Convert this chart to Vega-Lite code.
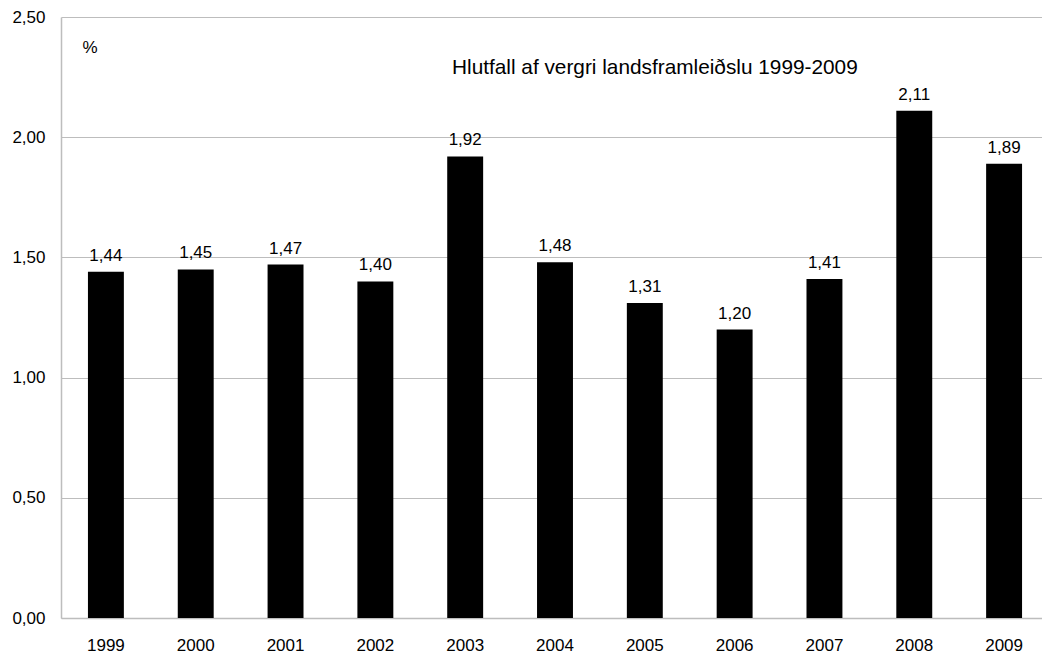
{
  "$schema": "https://vega.github.io/schema/vega-lite/v6.json",
  "autosize": "none",
  "width": 988,
  "height": 601,
  "padding": {"left": 61, "top": 17, "right": -7, "bottom": 38},
  "background": "white",
  "title": {
    "text": "Hlutfall af vergri landsframleiðslu 1999-2009",
    "frame": "group",
    "anchor": "start",
    "orient": "top",
    "dx": 391,
    "offset": -71,
    "font": "Liberation Sans",
    "fontSize": 20.8,
    "fontWeight": "normal",
    "color": "#000000"
  },
  "config": {
    "locale": {"number": {"decimal": ",", "thousands": ".", "grouping": [3], "currency": ["", ""]}},
    "view": {"stroke": null},
    "font": "Liberation Sans"
  },
  "data": {
    "values": [
      {"year": "1999", "value": 1.44},
      {"year": "2000", "value": 1.45},
      {"year": "2001", "value": 1.47},
      {"year": "2002", "value": 1.40},
      {"year": "2003", "value": 1.92},
      {"year": "2004", "value": 1.48},
      {"year": "2005", "value": 1.31},
      {"year": "2006", "value": 1.20},
      {"year": "2007", "value": 1.41},
      {"year": "2008", "value": 2.11},
      {"year": "2009", "value": 1.89}
    ]
  },
  "encoding": {
    "x": {
      "field": "year",
      "type": "ordinal",
      "scale": {"paddingInner": 0.6, "paddingOuter": 0.3},
      "axis": {
        "title": null,
        "labelAngle": 0,
        "ticks": false,
        "domainColor": "#bdbdbd",
        "domainWidth": 1.5,
        "labelFont": "Liberation Sans",
        "labelFontSize": 17,
        "labelColor": "#000000",
        "labelPadding": 19
      }
    },
    "y": {
      "field": "value",
      "type": "quantitative",
      "scale": {"domain": [0, 2.5]},
      "axis": {
        "values": [0, 0.5, 1, 1.5, 2, 2.5],
        "format": ".2f",
        "ticks": false,
        "domainColor": "#bdbdbd",
        "domainWidth": 1.5,
        "gridColor": "#bdbdbd",
        "gridWidth": 1.2,
        "labelFont": "Liberation Sans",
        "labelFontSize": 17,
        "labelColor": "#000000",
        "labelPadding": 16,
        "title": "%",
        "titleAngle": 0,
        "titleX": 21,
        "titleY": 30,
        "titleAlign": "left",
        "titleBaseline": "middle",
        "titleFont": "Liberation Sans",
        "titleFontSize": 17,
        "titleFontWeight": "normal",
        "titleColor": "#000000"
      }
    }
  },
  "layer": [
    {"mark": {"type": "bar", "color": "#000000"}},
    {
      "mark": {"type": "text", "baseline": "alphabetic", "dy": -11, "font": "Liberation Sans", "fontSize": 17, "color": "#000000"},
      "encoding": {"text": {"field": "value", "type": "quantitative", "format": ".2f"}}
    }
  ]
}
